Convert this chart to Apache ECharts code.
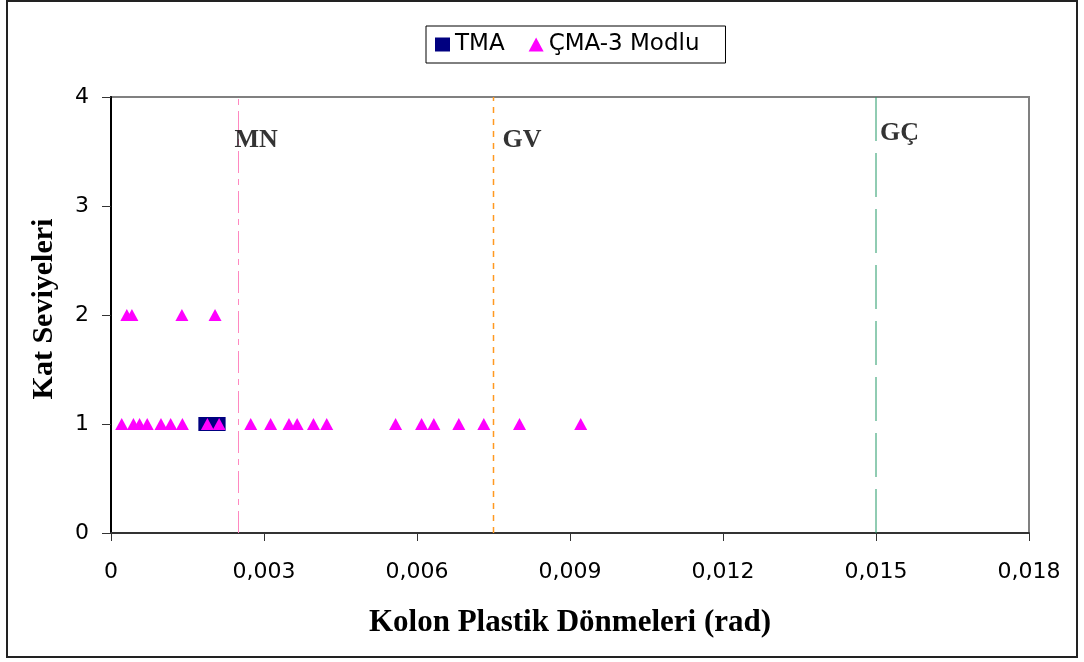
<!DOCTYPE html>
<html>
<head>
<meta charset="utf-8">
<script src="https://cdn.jsdelivr.net/npm/echarts@6/dist/echarts.min.js"></script>
<style>
html,body{margin:0;padding:0;background:#fff;}
#c{width:1084px;height:662px;}
</style>
</head>
<body>
<div id="c"></div>
<script>
// ---- data ----
const tmaX = [0.00185, 0.00211];
const tmaY = [1, 1];
const cmaX = [0.00021, 0.00044, 0.00056, 0.00071, 0.00098, 0.00117, 0.00140, 0.00189, 0.00212,
              0.00274, 0.00313, 0.00349, 0.00365, 0.00397, 0.00423,
              0.00558, 0.00609, 0.00633, 0.00682, 0.00731, 0.00801, 0.00921,
              0.00031, 0.00041, 0.00139, 0.00204];
const cmaY = [1, 1, 1, 1, 1, 1, 1, 1, 1,
              1, 1, 1, 1, 1, 1,
              1, 1, 1, 1, 1, 1, 1,
              2, 2, 2, 2];
const limitNames = ['MN', 'GV', 'GÇ'];
const limitX = [0.0025, 0.0075, 0.015];
const limitLabelY = [3.6, 3.6, 3.67];
const xTicks = [0, 0.003, 0.006, 0.009, 0.012, 0.015, 0.018];
const yTicks = [0, 1, 2, 3, 4];

// ---- styles ----
const limitStyles = [
  {color: '#FF88C0', type: [22, 6, 6, 6], width: 1},
  {color: '#FF9920', type: [6, 6], width: 1.5},
  {color: '#229966', type: [44, 12], width: 1}
];
const labelOffsets = [[-4, 0], [9, 0], [4, 0]];

const chart = echarts.init(document.getElementById('c'));
const zip = (a, b) => a.map((v, i) => [v, b[i]]);
const yMin = yTicks[0], yMax = yTicks[yTicks.length - 1];

const limitSeries = limitX.map((x, i) => ({
  name: 'lim' + i, type: 'line', silent: true, symbol: 'none', z: 1,
  color: limitStyles[i].color,
  lineStyle: Object.assign({opacity: 1}, limitStyles[i]),
  data: [[x, yMin], [x, yMax]]
}));

chart.setOption({
  animation: false,
  backgroundColor: '#fff',
  graphic: [{
    type: 'rect', shape: {x: 7, y: 1, width: 1070, height: 656},
    style: {fill: 'none', stroke: '#222', lineWidth: 2}, silent: true, z: 100
  }],
  legend: {
    data: ['TMA', 'ÇMA-3 Modlu'],
    left: 426, top: 26,
    padding: [7, 26, 7, 9],
    itemGap: 24, itemWidth: 15, itemHeight: 14,
    borderColor: '#000', borderWidth: 1,
    textStyle: {fontFamily: 'DejaVu Sans', fontSize: 23, color: '#000'}
  },
  grid: {left: 111, right: 55, top: 97, bottom: 129, show: true, borderColor: '#808080', borderWidth: 2},
  xAxis: {
    type: 'value', min: xTicks[0], max: xTicks[xTicks.length - 1], interval: 0.003,
    name: 'Kolon Plastik Dönmeleri (rad)', nameLocation: 'middle', nameGap: 74,
    nameTextStyle: {fontFamily: 'Liberation Serif', fontWeight: 'bold', fontSize: 31, color: '#000'},
    axisLine: {lineStyle: {color: '#333', width: 2}},
    axisTick: {show: true, length: 8, lineStyle: {color: '#333'}},
    splitLine: {show: false},
    axisLabel: {
      margin: 28, fontFamily: 'DejaVu Sans', fontSize: 22, color: '#000',
      formatter: v => (Math.abs(v) < 1e-12 ? '0' : v.toFixed(3).replace('.', ','))
    }
  },
  yAxis: {
    type: 'value', min: yMin, max: yMax, interval: 1,
    name: 'Kat Seviyeleri', nameLocation: 'middle', nameGap: 52,
    nameTextStyle: {fontFamily: 'Liberation Serif', fontWeight: 'bold', fontSize: 30, color: '#000', padding: [0, 0, 0, 12]},
    axisLine: {show: true, lineStyle: {color: '#000', width: 2}},
    axisTick: {show: true, length: 9, lineStyle: {color: '#333'}},
    splitLine: {show: false},
    axisLabel: {margin: 22, fontFamily: 'DejaVu Sans', fontSize: 22, color: '#000'}
  },
  series: limitSeries.concat([
    {
      name: 'TMA', type: 'scatter', symbol: 'rect', symbolSize: 14,
      itemStyle: {color: '#000080', opacity: 1},
      data: zip(tmaX, tmaY), z: 2
    },
    {
      name: 'ÇMA-3 Modlu', type: 'scatter', symbol: 'triangle', symbolSize: [13, 12],
      itemStyle: {color: '#FF00FF', opacity: 1},
      data: zip(cmaX, cmaY), z: 3
    },
    {
      name: 'limits', type: 'scatter', symbolSize: 0, silent: true,
      data: limitX.map((x, i) => ({
        value: [x, limitLabelY[i]], name: limitNames[i],
        label: {offset: labelOffsets[i]}
      })),
      label: {
        show: true, position: 'right', distance: 0, formatter: p => p.name,
        fontFamily: 'Liberation Serif', fontWeight: 'bold', fontSize: 26, color: '#000'
      }
    }
  ])
});
</script>
</body>
</html>
